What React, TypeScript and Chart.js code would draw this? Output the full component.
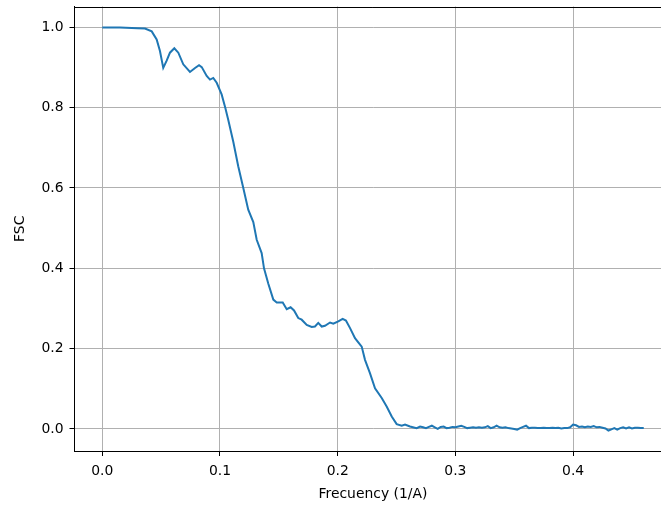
import React, { useEffect, useRef } from "react";
import { Chart, registerables } from "chart.js";

Chart.register(...registerables);

// Spatial frequency (1/A)
const freq: number[] = [
  0, 0.005, 0.01, 0.015, 0.02, 0.025, 0.03, 0.0363, 0.042, 0.0462,
  0.049, 0.0518, 0.0547, 0.0575, 0.0612, 0.0646, 0.0688, 0.0745, 0.0788, 0.0822,
  0.0845, 0.0887, 0.0915, 0.0943, 0.0972, 0.1014, 0.1045, 0.107, 0.1113, 0.1155,
  0.1198, 0.124, 0.1283, 0.1312, 0.1354, 0.1374, 0.141, 0.1453, 0.1482, 0.1533,
  0.1567, 0.16, 0.1629, 0.1665, 0.1694, 0.1737, 0.1779, 0.1807, 0.1835, 0.1864,
  0.1892, 0.1935, 0.1963, 0.2005, 0.2042, 0.207, 0.2105, 0.2147, 0.219, 0.2204,
  0.2232, 0.2274, 0.2317, 0.2374, 0.2416, 0.2459, 0.2501, 0.2544, 0.2572, 0.2614,
  0.2671,
  0.27, 0.2725, 0.275, 0.2775, 0.28, 0.2825, 0.285, 0.2875, 0.29, 0.2925,
  0.295, 0.2975, 0.3, 0.3025, 0.305, 0.3075, 0.31, 0.3125, 0.315, 0.3175,
  0.32, 0.3225, 0.325, 0.3275, 0.33, 0.3325, 0.335, 0.3375, 0.34, 0.3425,
  0.345, 0.3475, 0.35, 0.3525, 0.355, 0.3575, 0.36, 0.3625, 0.365, 0.3675,
  0.37, 0.3725, 0.375, 0.3775, 0.38, 0.3825, 0.385, 0.3875, 0.39, 0.3925,
  0.395, 0.3975, 0.4, 0.4025, 0.405, 0.4075, 0.41, 0.4125, 0.415, 0.4175,
  0.42, 0.4225, 0.425, 0.4275, 0.43, 0.4325, 0.435, 0.4375, 0.44, 0.4425,
  0.445, 0.4475, 0.45, 0.4525, 0.455, 0.4575, 0.46,
];

// Fourier shell correlation
const fsc: number[] = [
  1.0, 1.0, 0.9998, 0.9995, 0.999, 0.9985, 0.998, 0.997, 0.99, 0.97,
  0.941, 0.899, 0.917, 0.937, 0.948, 0.937, 0.908, 0.889, 0.899, 0.906,
  0.901, 0.879, 0.87, 0.874, 0.862, 0.833, 0.8, 0.77, 0.715, 0.654,
  0.6, 0.546, 0.515, 0.471, 0.438, 0.4, 0.362, 0.322, 0.315, 0.315,
  0.298, 0.303, 0.295, 0.276, 0.272, 0.259, 0.254, 0.255, 0.264, 0.255,
  0.257, 0.265, 0.262, 0.268, 0.274, 0.27, 0.251, 0.226, 0.21, 0.205,
  0.172, 0.139, 0.101, 0.077, 0.056, 0.031, 0.012, 0.008, 0.011, 0.006,
  0.002,
  0.006, 0.004, 0.002, 0.005, 0.008, 0.004, 0.0, 0.005, 0.006, 0.002,
  0.003, 0.005, 0.004, 0.006, 0.008, 0.005, 0.002, 0.003, 0.004, 0.003,
  0.004, 0.003, 0.004, 0.007, 0.002, 0.004, 0.008, 0.004, 0.003, 0.004,
  0.002, 0.001, 0.0, -0.002, 0.002, 0.005, 0.008, 0.002, 0.003, 0.003,
  0.002, 0.002, 0.003, 0.002, 0.002, 0.003, 0.002, 0.003, 0.001, 0.002,
  0.002, 0.004, 0.011, 0.009, 0.005, 0.006, 0.004, 0.006, 0.005, 0.007,
  0.004, 0.005, 0.003, 0.001, -0.004, -0.001, 0.002, -0.002, 0.002, 0.004,
  0.001, 0.004, 0.001, 0.003, 0.003, 0.002, 0.002,
];

const xTicks: number[] = [0, 0.1, 0.2, 0.3, 0.4];
const yTicks: number[] = [0, 0.2, 0.4, 0.6, 0.8, 1.0];
const xTitle = "Frecuency (1/A)";
const yTitle = "FSC";

const FONT = { family: "'DejaVu Sans', sans-serif", size: 13.9 };

const topSpine = {
  id: "topSpine",
  afterDraw(chart: any) {
    const { ctx, chartArea } = chart;
    ctx.save();
    ctx.strokeStyle = "#000";
    ctx.lineWidth = 1;
    ctx.beginPath();
    const t = Math.round(chartArea.top) + 0.5;
    ctx.moveTo(chartArea.left, t);
    ctx.lineTo(chartArea.right, t);
    ctx.stroke();
    ctx.restore();
  },
};

export default function App() {
  const canvasRef = useRef<HTMLCanvasElement | null>(null);

  useEffect(() => {
    if (!canvasRef.current) return;
    const points = freq.map((f, i) => ({ x: f, y: fsc[i] }));
    const chart = new Chart(canvasRef.current, {
      type: "line",
      data: {
        datasets: [
          {
            data: points,
            borderColor: "#1f77b4",
            borderWidth: 2,
            pointRadius: 0,
            tension: 0,
            fill: false,
          },
        ],
      },
      options: {
        responsive: false,
        animation: false,
        devicePixelRatio: 1,
        layout: { padding: { top: 6.5, right: 8.6, left: 0, bottom: 0 } },
        plugins: {
          legend: { display: false },
          tooltip: { enabled: false },
        },
        scales: {
          x: {
            type: "linear",
            min: -0.0236,
            max: 0.4835,
            afterBuildTicks: (s: any) => {
              s.ticks = xTicks.map((v) => ({ value: v }));
            },
            afterFit: (s: any) => {
              s.height = 55;
              s.paddingLeft = 0;
              s.paddingRight = 0;
              s.paddingTop = 0;
              s.paddingBottom = 0;
            },
            grid: {
              color: "#b0b0b0",
              lineWidth: 1,
              tickColor: "#000",
              tickLength: 5,
              tickWidth: 1,
            },
            border: { display: true, color: "#000", width: 1 },
            ticks: {
              color: "#000",
              font: FONT,
              padding: 7,
              maxRotation: 0,
              autoSkip: false,
              callback: (v: any) => Number(v).toFixed(1),
            },
            title: {
              display: true,
              text: xTitle,
              color: "#000",
              font: FONT,
              padding: { top: 0, bottom: 3 },
            },
          },
          y: {
            type: "linear",
            min: -0.055,
            max: 1.052,
            afterBuildTicks: (s: any) => {
              s.ticks = yTicks.map((v) => ({ value: v }));
            },
            afterFit: (s: any) => {
              s.width = 74.5;
              s.paddingLeft = 0;
              s.paddingRight = 0;
              s.paddingTop = 0;
              s.paddingBottom = 0;
            },
            grid: {
              color: "#b0b0b0",
              lineWidth: 1,
              tickColor: "#000",
              tickLength: 5,
              tickWidth: 1,
            },
            border: { display: true, color: "#000", width: 1 },
            ticks: {
              color: "#000",
              font: FONT,
              padding: 6,
              autoSkip: false,
              callback: (v: any) => Number(v).toFixed(1),
            },
            title: {
              display: true,
              text: yTitle,
              color: "#000",
              font: FONT,
              padding: { top: 12, bottom: 0 },
            },
          },
        },
      },
      plugins: [topSpine],
    });
    return () => chart.destroy();
  }, []);

  return (
    <div
      style={{
        position: "fixed",
        left: 0,
        top: 0,
        width: 661,
        height: 506,
        overflow: "hidden",
        background: "#fff",
      }}
    >
      <canvas
        ref={canvasRef}
        width={680}
        height={506}
        style={{ display: "block", width: 680, height: 506 }}
      />
    </div>
  );
}
